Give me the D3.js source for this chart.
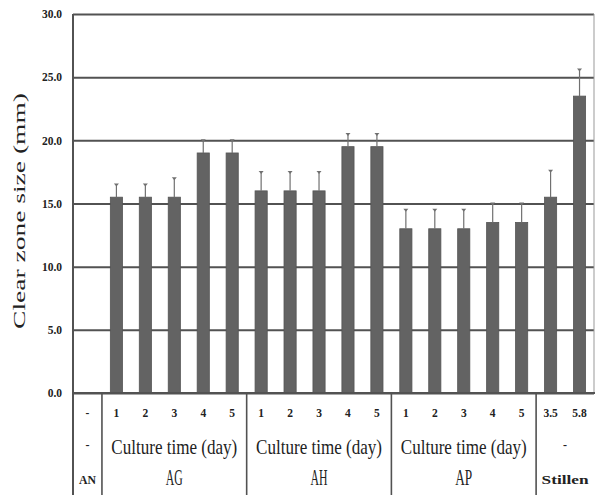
<!DOCTYPE html>
<html>
<head>
  <meta charset="utf-8">
  <script src="https://cdn.jsdelivr.net/npm/d3@7"></script>
  <style>
    html, body { margin: 0; padding: 0; background: #fff; overflow: hidden; }
    svg { display: block; }
  </style>
</head>
<body>
  <svg width="595" height="495" id="mainsvg"></svg>
  <script>
    // data
    const groups = ['AN', 'AG', 'AH', 'AP', 'Stillen'];
    const groupTicks = [['-'], ['1', '2', '3', '4', '5'], ['1', '2', '3', '4', '5'], ['1', '2', '3', '4', '5'], ['3.5', '5.8']];
    const groupSubtitles = ['-', 'Culture time (day)', 'Culture time (day)', 'Culture time (day)', '-'];
    const meanValues = [[null], [15.5, 15.5, 15.5, 19, 19], [16, 16, 16, 19.5, 19.5], [13, 13, 13, 13.5, 13.5], [15.5, 23.5]];
    const errValues = [[null], [1, 1, 1.5, 1, 1], [1.5, 1.5, 1.5, 1, 1], [1.5, 1.5, 1.5, 1.5, 1.5], [2.1, 2.1]];
    const yTicks = [0, 5, 10, 15, 20, 25, 30];
    const yTitle = 'Clear zone size (mm)';

    const svg = d3.select('svg');
    const width = +svg.attr('width');
    const height = +svg.attr('height');
    const margin = {top: 14, right: 1, bottom: 102, left: 73};
    const innerWidth = width - margin.left - margin.right;
    const innerHeight = height - margin.top - margin.bottom;
    const g = svg.append('g').attr('transform', `translate(${margin.left}, ${margin.top})`);

    const serif = '"Liberation Serif", "DejaVu Serif", serif';
    const barColor = '#636363';
    const lineColor = '#525252';

    // squeeze a text horizontally to a target width, keeping it centred on (x, y)
    const fitText = function(sel, x, y, target) {
      const w = sel.node().getComputedTextLength();
      const k = target / w;
      sel.attr('x', 0).attr('y', 0).attr('transform', `translate(${x}, ${y}) scale(${k}, 1)`);
    };

    // flat list of bar slots
    const slots = [];
    groups.forEach((grp, gi) => {
      groupTicks[gi].forEach((t, i) => {
        slots.push({key: grp + '_' + i, group: grp, tick: t, value: meanValues[gi][i], err: errValues[gi][i]});
      });
    });

    const xScale = d3.scaleBand().domain(slots.map(d => d.key)).range([0, innerWidth]).paddingInner(0.58).paddingOuter(0.29);
    const yScale = d3.scaleLinear().domain([0, 30]).range([innerHeight, 0]);
    const step = xScale.step();

    // y axis with grid lines
    const yAxis = d3.axisLeft(yScale).tickValues(yTicks).tickFormat(d3.format('.1f'))
      .tickSize(-innerWidth).tickPadding(11);
    const yAxisGroup = g.append('g').call(yAxis);
    yAxisGroup.select('.domain').remove();
    yAxisGroup.selectAll('.tick line').attr('stroke', lineColor).attr('stroke-width', 2);
    yAxisGroup.selectAll('.tick text').attr('font-family', serif).attr('font-weight', 'bold')
      .attr('font-size', 11.5).attr('fill', '#222');

    // left axis line through table
    g.append('line').attr('x1', 0).attr('x2', 0).attr('y1', 0).attr('y2', height - margin.top)
      .attr('stroke', lineColor).attr('stroke-width', 2);
    // right frame
    g.append('line').attr('x1', innerWidth).attr('x2', innerWidth).attr('y1', 0).attr('y2', innerHeight)
      .attr('stroke', '#999').attr('stroke-width', 1);

    // bars
    const barData = slots.filter(d => d.value !== null);
    g.selectAll('rect.bar').data(barData).join('rect').attr('class', 'bar')
      .attr('x', d => xScale(d.key)).attr('width', xScale.bandwidth())
      .attr('y', d => yScale(d.value)).attr('height', d => innerHeight - yScale(d.value))
      .attr('fill', barColor).attr('stroke', '#555').attr('stroke-width', 0.8);

    // upper error whiskers
    g.selectAll('line.err').data(barData).join('line').attr('class', 'err')
      .attr('x1', d => xScale(d.key) + xScale.bandwidth() / 2).attr('x2', d => xScale(d.key) + xScale.bandwidth() / 2)
      .attr('y1', d => yScale(d.value)).attr('y2', d => yScale(d.value + d.err))
      .attr('stroke', '#707070').attr('stroke-width', 1.2);
    g.selectAll('path.cap').data(barData).join('path').attr('class', 'cap')
      .attr('d', d => {
        const cx = xScale(d.key) + xScale.bandwidth() / 2, cy = yScale(d.value + d.err);
        return `M${cx - 2.5},${cy - 1}L${cx + 2.5},${cy - 1}L${cx},${cy + 2}Z`;
      })
      .attr('fill', '#707070');

    // redraw zero line over bars
    g.append('line').attr('x1', 0).attr('x2', innerWidth + margin.right).attr('y1', innerHeight).attr('y2', innerHeight)
      .attr('stroke', lineColor).attr('stroke-width', 2);

    // table below the chart
    const table = g.append('g').attr('transform', `translate(0, ${innerHeight})`);
    let start = 0;
    const spans = [];
    groups.forEach((grp, gi) => {
      const n = groupTicks[gi].length;
      spans.push({group: grp, subtitle: groupSubtitles[gi], x0: start * step, x1: (start + n) * step, n: n});
      start += n;
    });

    table.selectAll('line.sep').data(spans.slice(1)).join('line').attr('class', 'sep')
      .attr('x1', d => d.x0).attr('x2', d => d.x0).attr('y1', 0).attr('y2', margin.bottom)
      .attr('stroke', lineColor).attr('stroke-width', 1.6);

    table.selectAll('text.tick').data(slots).join('text').attr('class', 'tick')
      .attr('x', d => xScale(d.key) + xScale.bandwidth() / 2).attr('y', 24)
      .attr('text-anchor', 'middle').attr('font-family', serif).attr('font-weight', 'bold')
      .attr('font-size', 11.5).attr('fill', '#222')
      .text(d => d.tick);

    table.selectAll('text.sub').data(spans).join('text').attr('class', 'sub')
      .attr('text-anchor', 'middle').attr('font-family', serif)
      .attr('font-size', d => d.n > 2 ? 22 : 12).attr('font-weight', d => d.n > 2 ? 'normal' : 'bold')
      .attr('fill', '#222')
      .text(d => d.subtitle)
      .each(function(d) {
        const cx = (d.x0 + d.x1) / 2;
        if (d.n > 2) fitText(d3.select(this), cx, 61, 126);
        else d3.select(this).attr('x', cx).attr('y', 56);
      });

    table.selectAll('text.grp').data(spans).join('text').attr('class', 'grp')
      .attr('text-anchor', 'middle').attr('font-family', serif)
      .attr('font-size', d => d.n > 2 ? 23 : 12).attr('font-weight', d => d.n > 2 ? 'normal' : 'bold')
      .attr('fill', '#222')
      .text(d => d.group)
      .each(function(d) {
        const cx = (d.x0 + d.x1) / 2;
        const len = d.group === 'Stillen' ? 47 : 17;
        fitText(d3.select(this), cx, d.n > 2 ? 92 : 91, len);
      });

    // y title
    const title = svg.append('text').attr('text-anchor', 'middle').attr('font-family', serif)
      .attr('font-size', 17.5).attr('fill', '#222').text(yTitle);
    const tw = title.node().getComputedTextLength();
    title.attr('transform', `translate(25, 211) rotate(-90) scale(${236 / tw}, 1)`);
  </script>
</body>
</html>
